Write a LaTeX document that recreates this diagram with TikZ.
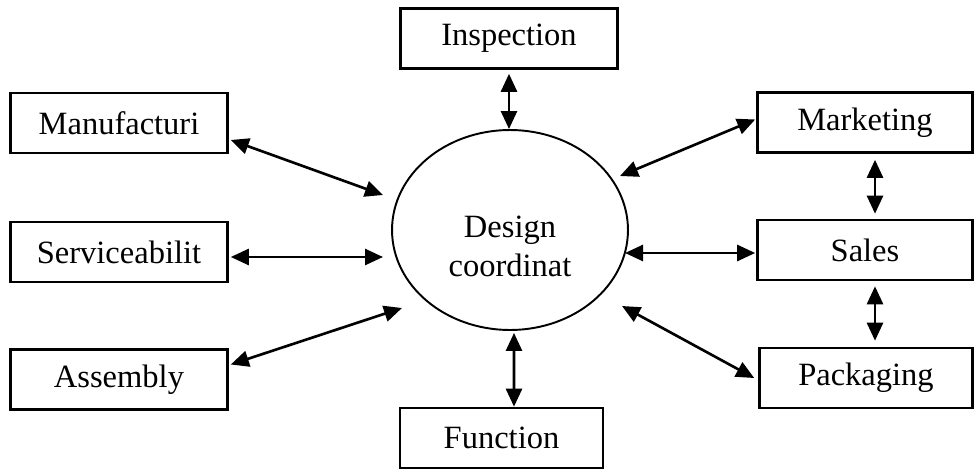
\documentclass[tikz,border=0pt]{standalone}
\usepackage{fontspec}
\setmainfont{Liberation Serif}
\usetikzlibrary{arrows.meta,calc,shapes.geometric}

\begin{document}
\begin{tikzpicture}[x=0.02cm,y=-0.02cm,>={Triangle[length=0.36cm,width=0.32cm]},
  box/.style={draw,line width=1.5pt,minimum width=4.34cm,minimum height=1.2cm,font=\fontsize{18.5}{22}\selectfont},
  hub/.style={draw,ellipse,line width=1.1pt,minimum width=4.72cm,minimum height=4cm,align=center,font=\fontsize{18.5}{22}\selectfont},
  link/.style={<->,line width=1.5pt}]
\useasboundingbox (0,0) rectangle (974,470);
\node[hub] (dc) at (510,230) {\rule{0pt}{31pt}Design\\coordinat};
\node[box] (insp) at (509,38.5) {Inspection};
\node[box] (manu) at (119,123) {Manufacturi};
\node[box] (serv) at (119,252) {Serviceabilit};
\node[box] (asm) at (119,379.5) {Assembly};
\node[box,minimum width=4.3cm] (mkt) at (865,122.5) {Marketing};
\node[box,minimum width=4.3cm] (sales) at (865,250) {Sales};
\node[box,minimum width=4.26cm] (pack) at (866,378) {Packaging};
\node[box,minimum width=4.06cm] (func) at (501.5,438) {Function};
\draw[link] ($(insp.south)+(0,4)$) -- (insp.south |- dc.north);
\draw[link] ($(dc.south)+(4,2)$) -- ($(func.north)+(12.5,0)$);
\draw[link] ($(manu.east)+(2,17)$) -- ($(dc)+(-127,-35)$);
\draw[link] ($(serv.east)+(2,5)$) -- ($(dc)+(-127,27)$);
\draw[link] ($(asm.east)+(2,-15)$) -- ($(dc)+(-108,78)$);
\draw[link] ($(dc)+(110,-54)$) -- ($(mkt.west)+(-1,-3)$);
\draw[link] ($(dc)+(115,23)$) -- ($(sales.west)+(-1,3)$);
\draw[link] ($(dc)+(112,76)$) -- ($(pack.west)+(-4,0)$);
\draw[link] ($(mkt.south)+(10,6)$) -- ($(sales.north)+(10,-5)$);
\draw[link] ($(sales.south)+(10,5)$) -- ($(pack.north)+(9,-6)$);
\end{tikzpicture}
\end{document}
